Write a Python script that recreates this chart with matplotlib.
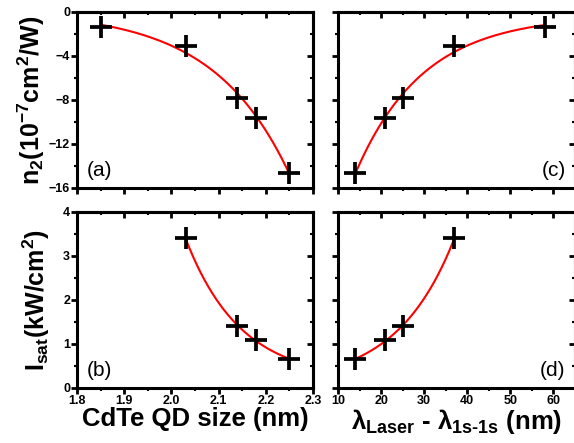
import numpy as np
import matplotlib.pyplot as plt
from matplotlib.ticker import MultipleLocator

plt.rcParams['font.family'] = ['Liberation Sans', 'DejaVu Sans']
plt.rcParams['mathtext.fontset'] = 'custom'
plt.rcParams['mathtext.rm'] = 'Liberation Sans:bold'
plt.rcParams['mathtext.bf'] = 'Liberation Sans:bold'
plt.rcParams['mathtext.it'] = 'Liberation Sans:bold'
plt.rcParams['mathtext.default'] = 'bf'

# measured points
size_nm = [1.85, 2.03, 2.14, 2.18, 2.25]
n2 = [-1.4, -3.1, -7.8, -9.6, -14.6]
detuning_nm = [58, 37, 25, 21, 14]

size_isat = [2.03, 2.14, 2.18, 2.25]
isat = [3.4, 1.4, 1.1, 0.65]
detuning_isat = [37, 25, 21, 14]


def exp_fit(x, y, kmin, kmax):
    """Least-squares fit of y = a + b*exp(k*(x - xm)), scanning k."""
    x = np.asarray(x, float)
    y = np.asarray(y, float)
    xm = x.mean()
    best = None
    for k in np.linspace(kmin, kmax, 3000):
        A = np.column_stack([np.ones_like(x), np.exp(k * (x - xm))])
        coef = np.linalg.lstsq(A, y, rcond=None)[0]
        err = np.sum((A @ coef - y) ** 2)
        if best is None or err < best[0]:
            best = (err, k, coef)
    _, k, (a, b) = best
    xs = np.linspace(x.min(), x.max(), 300)
    return xs, a + b * np.exp(k * (xs - xm))


def style(ax, xmaj, xmin, ymaj, ymin, xlabels, ylabels):
    for s in ax.spines.values():
        s.set_linewidth(2.2)
    ax.xaxis.set_major_locator(MultipleLocator(xmaj))
    ax.xaxis.set_minor_locator(MultipleLocator(xmin))
    ax.yaxis.set_major_locator(MultipleLocator(ymaj))
    ax.yaxis.set_minor_locator(MultipleLocator(ymin))
    ax.tick_params(which='major', direction='out', length=4, width=2,
                   labelsize=9, pad=1, labelbottom=xlabels, labelleft=ylabels)
    ax.tick_params(which='minor', direction='out', length=2.5, width=1.5)
    for lab in ax.get_xticklabels() + ax.get_yticklabels():
        lab.set_fontweight('bold')
    top = ax.secondary_xaxis('top')
    right = ax.secondary_yaxis('right')
    for sec, axis in ((top, top.xaxis), (right, right.yaxis)):
        axis.set_major_locator(MultipleLocator(xmaj if sec is top else ymaj))
        axis.set_minor_locator(MultipleLocator(xmin if sec is top else ymin))
        sec.tick_params(which='major', direction='in', length=4, width=2,
                        labeltop=False, labelright=False)
        sec.tick_params(which='minor', direction='in', length=2.5, width=1.5)
        for s in sec.spines.values():
            s.set_linewidth(2.2)


fig = plt.figure(figsize=(5.74, 4.43), dpi=100)
W, H = 574, 443
def rect(x0, y0, x1, y1):
    return [x0 / W, 1 - y1 / H, (x1 - x0) / W, (y1 - y0) / H]

ax_a = fig.add_axes(rect(77, 12, 313, 188))
ax_c = fig.add_axes(rect(338, 12, 575, 188))
ax_b = fig.add_axes(rect(77, 212, 313, 388))
ax_d = fig.add_axes(rect(338, 212, 575, 388))

mk = dict(marker='+', color='black', markersize=16, mew=2.7, linestyle='none', zorder=3)
line = dict(color='red', linewidth=1.5, zorder=2)

# (a) n2 vs size
xs, ys = exp_fit(size_nm, n2, 0.5, 40)
ax_a.plot(xs, ys, **line)
ax_a.plot(size_nm, n2, **mk)
ax_a.set_xlim(1.8, 2.3)
ax_a.set_ylim(-16, 0)
style(ax_a, 0.1, 0.05, 4, 2, False, True)
ax_a.set_ylabel('n$_2$(10$^{-7}$cm$^2$/W)', fontsize=18, fontweight='bold', labelpad=1)

# (c) n2 vs detuning
xs, ys = exp_fit(detuning_nm, n2, -0.5, -0.005)
ax_c.plot(xs, ys, **line)
ax_c.plot(detuning_nm, n2, **mk)
ax_c.set_xlim(10, 65)
ax_c.set_ylim(-16, 0)
style(ax_c, 10, 5, 4, 2, False, False)

# (b) Isat vs size
xs, ys = exp_fit(size_isat, isat, -60, -0.5)
ax_b.plot(xs, ys, **line)
ax_b.plot(size_isat, isat, **mk)
ax_b.set_xlim(1.8, 2.3)
ax_b.set_ylim(0, 4)
style(ax_b, 0.1, 0.05, 1, 0.5, True, True)
ax_b.set_ylabel('I$_{sat}$(kW/cm$^2$)', fontsize=18, fontweight='bold', labelpad=8)
ax_b.set_xlabel('CdTe QD size (nm)', fontsize=18.5, fontweight='bold', labelpad=0)

# (d) Isat vs detuning
xs, ys = exp_fit(detuning_isat, isat, 0.005, 0.5)
ax_d.plot(xs, ys, **line)
ax_d.plot(detuning_isat, isat, **mk)
ax_d.set_xlim(10, 65)
ax_d.set_ylim(0, 4)
style(ax_d, 10, 5, 1, 0.5, True, False)
ax_d.set_xlabel(r'$\lambda_{Laser}$ - $\lambda_{1s\text{-}1s}$ (nm)', fontsize=18.5,
                fontweight='bold', labelpad=0)

for ax, tag, x, ha in ((ax_a, '(a)', 0.04, 'left'), (ax_b, '(b)', 0.04, 'left'),
                       (ax_c, '(c)', 0.96, 'right'), (ax_d, '(d)', 0.96, 'right')):
    ax.text(x, 0.1, tag, transform=ax.transAxes, fontsize=15, ha=ha, va='center')

fig.savefig('out.png', dpi=100)
